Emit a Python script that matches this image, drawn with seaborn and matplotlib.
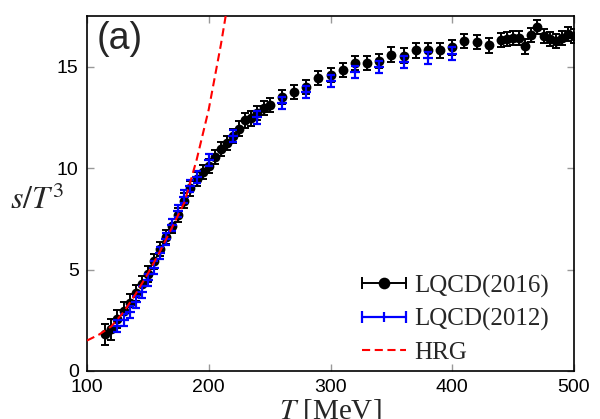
import matplotlib
matplotlib.use("Agg")
import matplotlib.pyplot as plt
from matplotlib.lines import Line2D
from matplotlib.legend_handler import HandlerBase
import seaborn as sns
import pandas as pd

# ---- data ----
T_2016 = [115, 120, 125, 130, 135, 140, 145, 150, 155, 160, 165, 170, 175, 180,
          185, 190, 195, 200, 205, 210, 215, 220, 225, 230, 235, 240, 245, 250,
          260, 270, 280, 290, 300, 310, 320, 330, 340, 350, 360, 370, 380, 390,
          400, 410, 420, 430, 440, 445, 450, 455, 460, 465, 470, 475, 480, 485,
          490, 495, 500]
s_2016 = [1.8, 2.05, 2.55, 2.95, 3.35, 3.85, 4.3, 4.8, 5.4, 6.0, 6.6, 7.15, 7.7, 8.4,
          9.0, 9.45, 9.8, 10.1, 10.55, 10.95, 11.25, 11.6, 11.95, 12.35, 12.45, 12.7,
          12.95, 13.1, 13.5, 13.75, 14.0, 14.45, 14.6, 14.85, 15.2, 15.2, 15.3, 15.6,
          15.55, 15.8, 15.8, 15.8, 15.95, 16.25, 16.2, 16.05, 16.3, 16.35, 16.4, 16.4,
          16.0, 16.55, 16.95, 16.5, 16.35, 16.25, 16.4, 16.6, 16.5]
e_2016 = [0.5, 0.5, 0.45, 0.45, 0.45, 0.4, 0.4, 0.4, 0.35, 0.35, 0.35, 0.35, 0.35, 0.35,
          0.35, 0.35, 0.35, 0.35, 0.35, 0.35, 0.35, 0.35, 0.35, 0.35, 0.35, 0.35,
          0.35, 0.35, 0.35, 0.35, 0.35, 0.35, 0.35, 0.35, 0.35, 0.35, 0.35, 0.35,
          0.35, 0.35, 0.35, 0.35, 0.35, 0.35, 0.35, 0.35, 0.35, 0.35, 0.35, 0.35,
          0.35, 0.35, 0.35, 0.35, 0.35, 0.35, 0.35, 0.35, 0.35]

T_2012 = [125, 130, 135, 140, 145, 150, 155, 160, 165, 170, 175, 180, 185, 190,
          200, 220, 240, 260, 280, 300, 320, 340, 360, 380, 400]
s_2012 = [2.2, 2.5, 2.9, 3.4, 3.9, 4.5, 5.1, 5.8, 6.5, 7.2, 7.9, 8.6, 9.1, 9.55,
          10.4, 11.6, 12.5, 13.2, 13.75, 14.3, 14.75, 15.0, 15.25, 15.45, 15.65]
e_2012 = [0.3, 0.3, 0.3, 0.3, 0.3, 0.3, 0.3, 0.3, 0.3, 0.3, 0.3, 0.3, 0.3, 0.3,
          0.3, 0.3, 0.3, 0.3, 0.3, 0.3, 0.3, 0.3, 0.3, 0.3, 0.3]

T_hrg = [100, 110, 120, 130, 140, 150, 160, 170, 180, 190, 200, 210, 215]
s_hrg = [1.5, 1.8, 2.2, 2.9, 3.8, 4.8, 5.9, 7.1, 8.3, 10.4, 12.9, 16.1, 17.9]

labels = ["LQCD(2016)", "LQCD(2012)", "HRG"]

df16 = pd.DataFrame({"T": T_2016, "s": s_2016, "e": e_2016})
df12 = pd.DataFrame({"T": T_2012, "s": s_2012, "e": e_2012})
dfh = pd.DataFrame({"T": T_hrg, "s": s_hrg})

sns.set_theme(style="ticks")
plt.rcParams["font.family"] = ["Liberation Sans", "DejaVu Sans"]
plt.rcParams["mathtext.fontset"] = "stix"

fig = plt.figure(figsize=(6.0, 4.19), dpi=100)
ax = fig.add_axes([0.145, 0.1146, 0.8117, 0.8472])

BLUE = "#0000ff"
RED = "#ff0000"
HRG_DASH = (0, (3.9, 2.2))

# LQCD 2016 (black)
ax.errorbar(df16["T"], df16["s"], yerr=df16["e"], fmt="none", ecolor="black",
            elinewidth=1.4, capsize=3.0, capthick=1.4, zorder=2)
sns.scatterplot(data=df16, x="T", y="s", ax=ax, color="black", s=50,
                edgecolor="black", linewidth=0, zorder=3, legend=False)

# LQCD 2012 (blue)
ax.errorbar(df12["T"], df12["s"], yerr=df12["e"], fmt="none", ecolor=BLUE,
            elinewidth=1.6, capsize=3.0, capthick=1.6, zorder=4)
sns.scatterplot(data=df12, x="T", y="s", ax=ax, color=BLUE, marker="_", s=45,
                linewidth=1.6, zorder=5, legend=False)

# HRG (red dashed)
sns.lineplot(data=dfh, x="T", y="s", ax=ax, color=RED, lw=1.5,
             dashes=False, zorder=6, legend=False)
ax.lines[-1].set_linestyle(HRG_DASH)

ax.set_xlim(100, 500)
ax.set_ylim(0, 17.5)
ax.set_xticks([100, 200, 300, 400, 500])
ax.set_yticks([0, 5, 10, 15])
ax.tick_params(direction="in", length=5, width=1, color="#999999",
               top=True, right=True, labelsize=14, pad=6, labelcolor="black")
for sp in ax.spines.values():
    sp.set_visible(True)
    sp.set_color("black")
    sp.set_linewidth(1.2)
ax.set_xlabel("")
ax.set_ylabel("")

fig.text(0.551, 0.053, r"$T$ [MeV]", ha="center", va="top", fontsize=21,
         family="Liberation Serif")
fig.text(0.062, 0.52, r"$s/T^3$", ha="center", va="center", fontsize=23)
ax.text(0.02, 0.985, "(a)", transform=ax.transAxes, ha="left", va="top", fontsize=27)


class GnuErrHandler(HandlerBase):
    """gnuplot-like key sample: horizontal bar with end caps and a centre mark."""
    def __init__(self, color, lw, marker, ms):
        super().__init__()
        self.color, self.lw, self.marker, self.ms = color, lw, marker, ms

    def create_artists(self, legend, orig_handle, xdescent, ydescent, width,
                       height, fontsize, trans):
        y = height / 2.0 - ydescent
        x0, x1 = -xdescent, -xdescent + width
        bar = Line2D([x0, x1], [y, y], color=self.color, lw=self.lw,
                     marker="|", markersize=9, mew=self.lw, transform=trans)
        mid = Line2D([(x0 + x1) / 2], [y], color=self.color, ls="none",
                     marker=self.marker, markersize=self.ms, mew=self.lw,
                     transform=trans)
        return [bar, mid]


h16 = Line2D([], [], color="black")
h12 = Line2D([], [], color=BLUE)
hh = Line2D([], [], color=RED, lw=1.5, ls=HRG_DASH)
leg = ax.legend([h16, h12, hh], labels,
                handler_map={h16: GnuErrHandler("black", 1.4, "o", 7),
                             h12: GnuErrHandler(BLUE, 1.6, "|", 7)},
                loc="lower right", bbox_to_anchor=(0.985, -0.03), frameon=False,
                prop={"family": "Liberation Serif", "size": 18},
                handlelength=1.75, handletextpad=0.35, labelspacing=0.42,
                borderaxespad=0.3)

fig.savefig("out.png", dpi=100)
